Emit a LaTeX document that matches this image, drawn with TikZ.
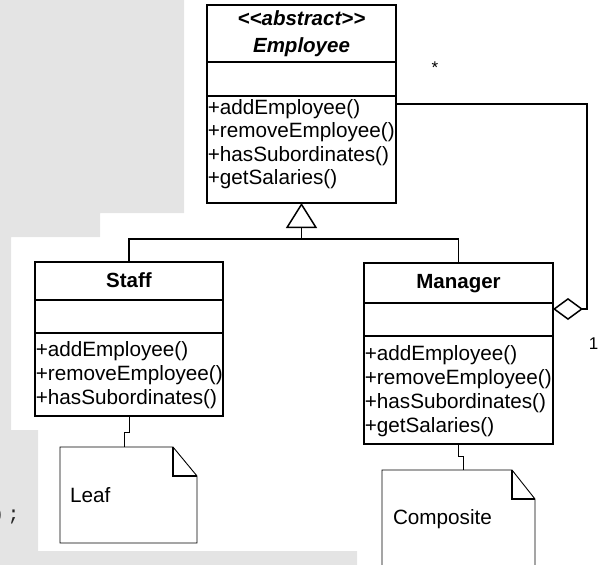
\documentclass[tikz,border=0pt]{standalone}
\usepackage{fontspec}
\setmainfont{Liberation Sans}
\setmonofont{Liberation Mono}
\usetikzlibrary{arrows.meta}
\definecolor{bggrey}{RGB}{228,228,228}
\begin{document}
\begin{tikzpicture}[x=1pt,y=-1pt,
  every node/.style={inner sep=0pt, outer sep=0pt},
  txt/.style={font=\fontsize{20.7}{24}\selectfont},
  meth/.style={txt, anchor=base west},
  head/.style={txt, anchor=base, font=\fontsize{20.5}{24}\selectfont\bfseries},
  cls/.style={draw, line width=1.6pt},
  div/.style={line width=1.6pt},
  conn/.style={line width=1.2pt},
  notebox/.style={},
  noteline/.style={line width=0.9pt},
  fold/.style={line width=1.8pt},
  link/.style={line width=1pt},
  mult/.style={font=\fontsize{17}{20}\selectfont, anchor=base}
]
\useasboundingbox (0,0) rectangle (603,565);
% grey backdrop
\fill[bggrey] (0,0) -- (184,0) -- (184,213) -- (100,213) -- (100,237) -- (11,237)
  -- (11,430) -- (38,430) -- (38,551) -- (357,551) -- (357,565) -- (0,565) -- cycle;
\node[anchor=base west, font=\fontsize{20}{24}\ttfamily, text=black!85] (frag) at (-8,520) {)\kern3.5pt;};

% Employee
\node[cls, minimum width=189pt, minimum height=198pt] (emp) at (301.5,104) {};
\draw[div] (207,62) -- (396,62);
\draw[div] (207,96) -- (396,96);
\node[head] (empst) at (301.5,25.5) {\itshape <{}<abstract>{}>};
\node[head] (empnm) at (301.5,52) {\itshape Employee};
\node[meth] (em1) at (207.8,114) {+addEmployee()};
\node[meth] (em2) at (207.8,137.5) {+removeEmployee()};
\node[meth] (em3) at (207.8,161) {+hasSubordinates()};
\node[meth] (em4) at (207.8,184.5) {+getSalaries()};

% Staff
\node[cls, minimum width=188pt, minimum height=154pt] (staff) at (129,339) {};
\draw[div] (35,300) -- (223,300);
\draw[div] (35,333) -- (223,333);
\node[head] (stnm) at (129,287) {Staff};
\node[meth] (sm1) at (35.8,356) {+addEmployee()};
\node[meth] (sm2) at (35.8,380) {+removeEmployee()};
\node[meth] (sm3) at (35.8,404) {+hasSubordinates()};

% Manager
\node[cls, minimum width=189pt, minimum height=181pt] (mgr) at (458.5,353.5) {};
\draw[div] (364,303) -- (553,303);
\draw[div] (364,336) -- (553,336);
\node[head] (mgnm) at (458.5,288) {Manager};
\node[meth] (mm1) at (364.8,360) {+addEmployee()};
\node[meth] (mm2) at (364.8,384.5) {+removeEmployee()};
\node[meth] (mm3) at (364.8,408.5) {+hasSubordinates()};
\node[meth] (mm4) at (364.8,432.5) {+getSalaries()};

% Generalization
\coordinate (j) at (301.5,239);
\draw[conn] (staff.north) |- (j) -| (mgr.north);
\draw[conn, -{Triangle[open, length=25pt, width=31pt, line width=1.5pt]}] (j) -- (emp.south);

% Aggregation
\coordinate (c1) at (587,309);
\draw[conn, -{Diamond[open, length=30pt, width=22pt, line width=1.5pt]}] (emp.east) -| (c1) -- (mgr.east |- c1);
\node[mult] (mstar) at (435,73) {*};
\node[mult] (mone) at (593.5,349) {1};

% Notes
\node[notebox, minimum width=137pt, minimum height=96pt] (leaf) at (128.5,495) {};
\draw[noteline, fill=white] (leaf.north west) -- ([xshift=-24pt]leaf.north east)
  -- ([yshift=-29pt]leaf.north east) -- (leaf.south east) -- (leaf.south west) -- cycle;
\draw[fold] ([xshift=-24pt]leaf.north east) |- ([yshift=-29pt]leaf.north east);
\node[meth] (leaft) at (70,502) {Leaf};

\node[notebox, minimum width=153pt, minimum height=120pt] (comp) at (458.5,530) {};
\draw[noteline, fill=white] (comp.north west) -- ([xshift=-23pt]comp.north east)
  -- ([yshift=-29pt]comp.north east) -- (comp.south east) -- (comp.south west) -- cycle;
\draw[fold] ([xshift=-23pt]comp.north east) |- ([yshift=-29pt]comp.north east);
\node[meth] (compt) at (393,524) {Composite};

\draw[link] (staff.south) -- ++(0,16) -| ([xshift=-4pt]leaf.north);
\draw[link] (mgr.south) -- ++(0,12) -| ([xshift=4.5pt]comp.north);
\end{tikzpicture}
\end{document}
